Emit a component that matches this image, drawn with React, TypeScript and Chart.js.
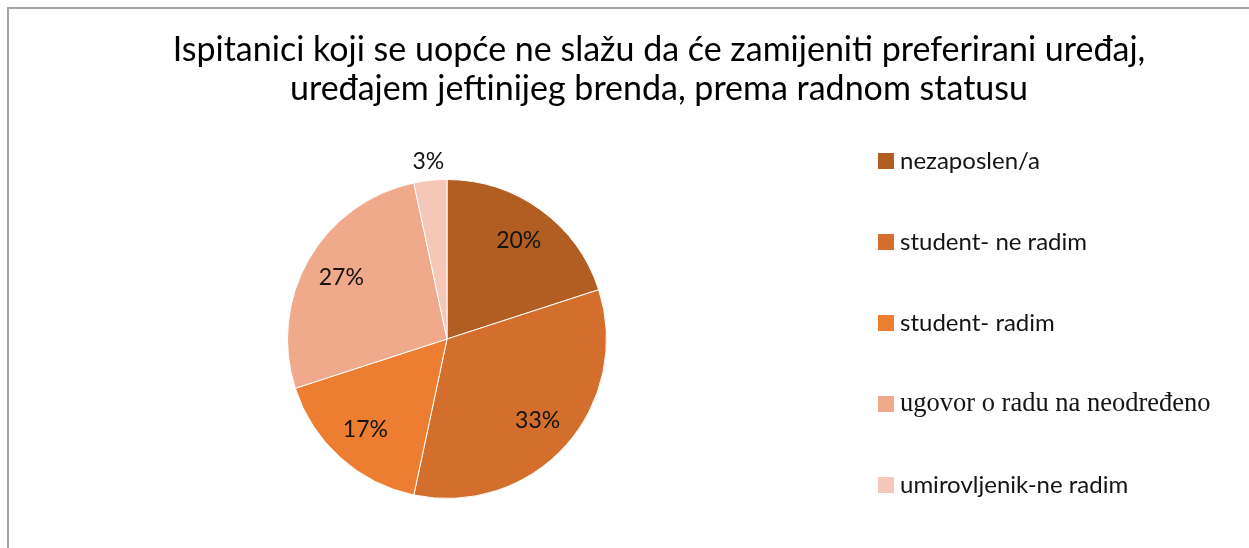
import React, { useEffect, useRef } from "react";
import { Chart, registerables } from "chart.js";

Chart.register(...registerables);

const titleLines = [
  "Ispitanici koji se uopće ne slažu da će zamijeniti preferirani uređaj,",
  "uređajem jeftinijeg brenda, prema radnom statusu",
];
const categories = [
  "nezaposlen/a",
  "student- ne radim",
  "student- radim",
  "ugovor o radu na neodređeno",
  "umirovljenik-ne radim",
];
const counts = [6, 10, 5, 8, 1];
const percentLabels = ["20%", "33%", "17%", "27%", "3%"];
const colors = ["#B25E22", "#D36E2C", "#ED7D31", "#F0A98A", "#F5C7B8"];
const legendSerif = [false, false, false, true, false];

const W = 1249;
const H = 548;
const SANS = "Lato, 'Open Sans', sans-serif";
const SERIF = "'Liberation Serif', 'DejaVu Serif', serif";

const decorPlugin = {
  id: "decor",
  beforeDraw(chart: any) {
    const ctx = chart.ctx;
    ctx.save();
    ctx.fillStyle = "#ffffff";
    ctx.fillRect(0, 0, W, H);
    ctx.fillStyle = "#A6A6A6";
    ctx.fillRect(7, 7, W - 7, 2);
    ctx.fillRect(7, 7, 2, H - 7);
    // title
    ctx.fillStyle = "#000000";
    ctx.font = `34px ${SANS}`;
    ctx.textAlign = "center";
    ctx.textBaseline = "alphabetic";
    ctx.fillText(titleLines[0], 659, 61);
    ctx.fillText(titleLines[1], 659, 100);
    ctx.restore();
  },
  afterDatasetsDraw(chart: any) {
    const ctx = chart.ctx;
    const meta = chart.getDatasetMeta(0);
    ctx.save();
    ctx.fillStyle = "#141414";
    ctx.font = `23px ${SANS}`;
    ctx.textAlign = "center";
    ctx.textBaseline = "middle";
    meta.data.forEach((arc: any, i: number) => {
      const p = arc.getProps(["x", "y", "startAngle", "endAngle", "outerRadius"], true);
      const mid = (p.startAngle + p.endAngle) / 2;
      const f = i === 4 ? 1.12 : 0.765;
      const x = p.x + Math.cos(mid) * p.outerRadius * f;
      const y = p.y + Math.sin(mid) * p.outerRadius * f;
      ctx.fillText(percentLabels[i], x, y);
    });
    // legend
    ctx.textAlign = "left";
    ctx.textBaseline = "middle";
    categories.forEach((c, i) => {
      const cy = 161 + i * 81;
      ctx.fillStyle = colors[i];
      ctx.fillRect(878, cy - 8, 16, 16);
      ctx.fillStyle = "#141414";
      ctx.font = legendSerif[i] ? `26.5px ${SERIF}` : `24px ${SANS}`;
      ctx.fillText(c, 900, cy);
    });
    ctx.restore();
  },
};

export default function App() {
  const ref = useRef<HTMLCanvasElement | null>(null);
  useEffect(() => {
    if (!ref.current) return;
    const chart = new Chart(ref.current, {
      type: "pie",
      data: {
        labels: categories,
        datasets: [
          {
            data: counts,
            backgroundColor: colors,
            borderColor: "#ffffff",
            borderWidth: 1,
          },
        ],
      },
      options: {
        responsive: false,
        animation: false,
        events: [],
        layout: { padding: { left: 287, right: 642, top: 179, bottom: 49 } },
        plugins: {
          legend: { display: false },
          title: { display: false },
          tooltip: { enabled: false },
        },
      },
      plugins: [decorPlugin],
    });
    return () => chart.destroy();
  }, []);
  return (
    <div style={{ position: "absolute", left: 0, top: 0, width: W, height: H }}>
      <canvas ref={ref} width={W} height={H} style={{ display: "block" }} />
    </div>
  );
}
